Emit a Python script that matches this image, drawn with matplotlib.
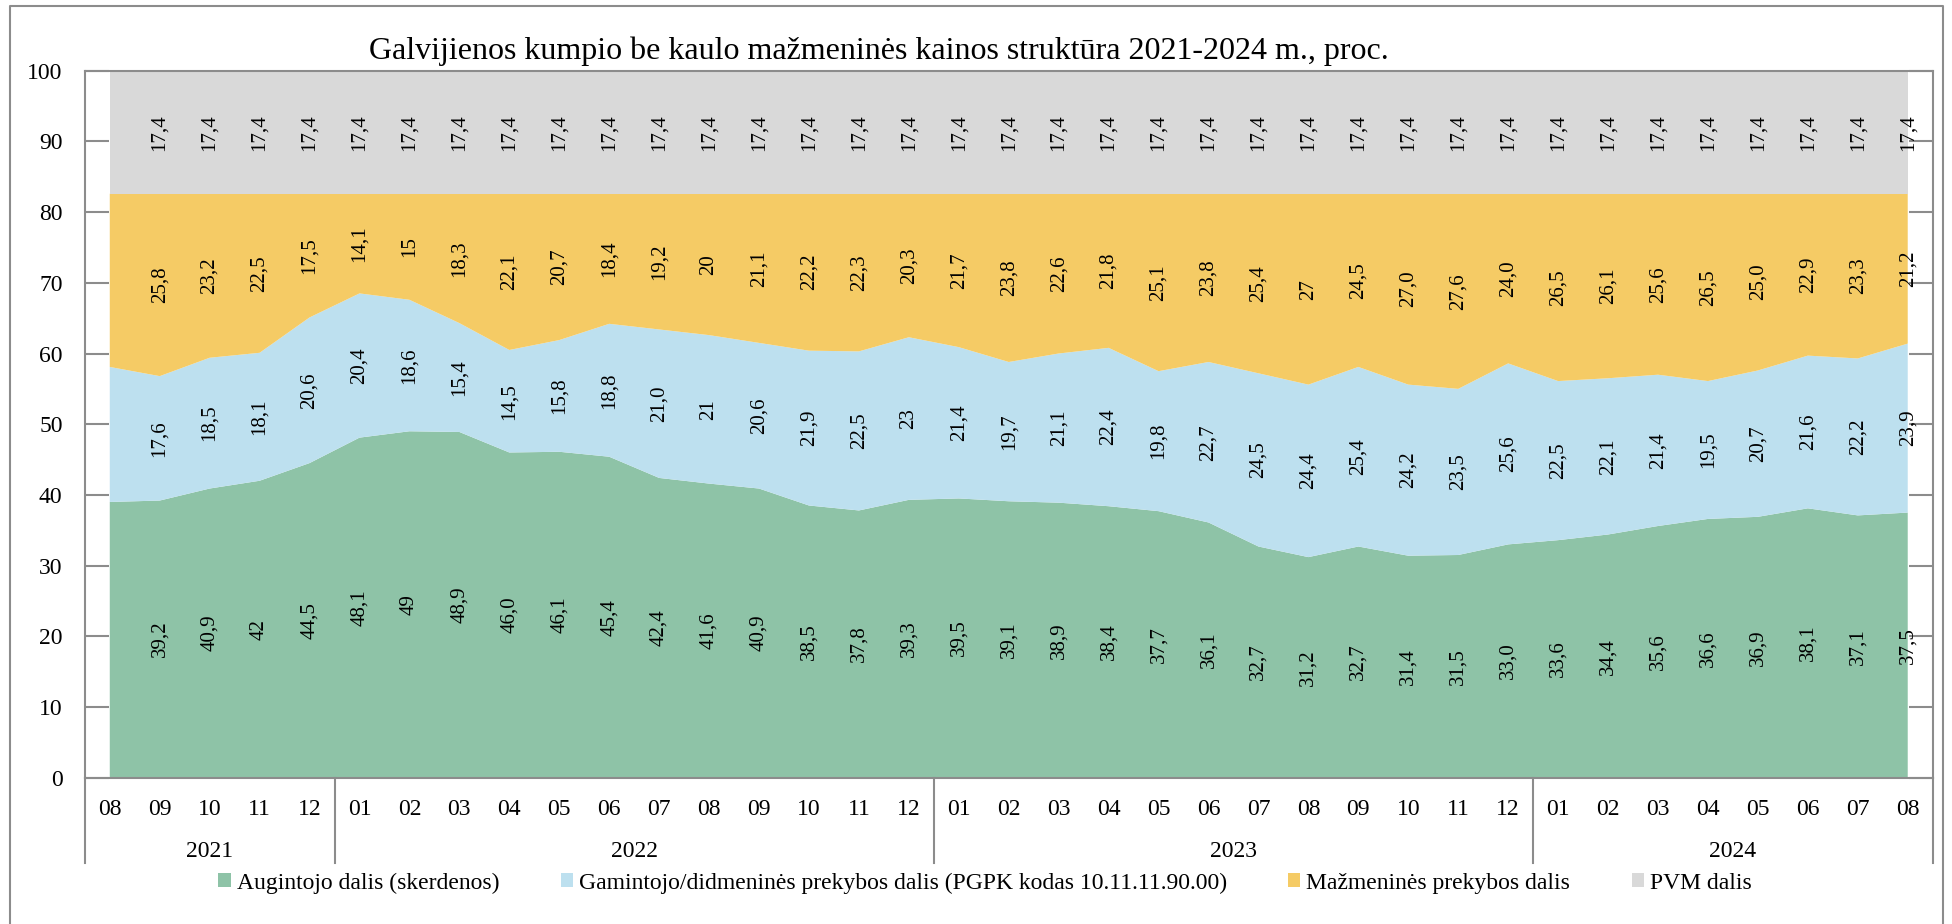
import matplotlib
matplotlib.use("Agg")
import matplotlib.pyplot as plt
from matplotlib.patches import Patch
from matplotlib.lines import Line2D
import matplotlib.transforms as mtransforms
import numpy as np

plt.rcParams['font.family'] = ['Liberation Serif', 'DejaVu Serif']

# ---- data ----
months = ['08', '09', '10', '11', '12',
          '01', '02', '03', '04', '05', '06', '07', '08', '09', '10', '11', '12',
          '01', '02', '03', '04', '05', '06', '07', '08', '09', '10', '11', '12',
          '01', '02', '03', '04', '05', '06', '07', '08']
years = ['2021', '2022', '2023', '2024']
months_per_year = [5, 12, 12, 8]

# ints are labelled without decimals, floats with one decimal (as in the source)
augintojo = [39.0, 39.2, 40.9, 42, 44.5,
             48.1, 49, 48.9, 46.0, 46.1, 45.4, 42.4, 41.6, 40.9, 38.5, 37.8, 39.3,
             39.5, 39.1, 38.9, 38.4, 37.7, 36.1, 32.7, 31.2, 32.7, 31.4, 31.5, 33.0,
             33.6, 34.4, 35.6, 36.6, 36.9, 38.1, 37.1, 37.5]
gamintojo = [19.1, 17.6, 18.5, 18.1, 20.6,
             20.4, 18.6, 15.4, 14.5, 15.8, 18.8, 21.0, 21, 20.6, 21.9, 22.5, 23,
             21.4, 19.7, 21.1, 22.4, 19.8, 22.7, 24.5, 24.4, 25.4, 24.2, 23.5, 25.6,
             22.5, 22.1, 21.4, 19.5, 20.7, 21.6, 22.2, 23.9]
mazmenines = [24.5, 25.8, 23.2, 22.5, 17.5,
              14.1, 15, 18.3, 22.1, 20.7, 18.4, 19.2, 20, 21.1, 22.2, 22.3, 20.3,
              21.7, 23.8, 22.6, 21.8, 25.1, 23.8, 25.4, 27, 24.5, 27.0, 27.6, 24.0,
              26.5, 26.1, 25.6, 26.5, 25.0, 22.9, 23.3, 21.2]
pvm = [17.4, 17.4, 17.4, 17.4, 17.4,
       17.4, 17.4, 17.4, 17.4, 17.4, 17.4, 17.4, 17.4, 17.4, 17.4, 17.4, 17.4,
       17.4, 17.4, 17.4, 17.4, 17.4, 17.4, 17.4, 17.4, 17.4, 17.4, 17.4, 17.4,
       17.4, 17.4, 17.4, 17.4, 17.4, 17.4, 17.4, 17.4]

series_names = ['Augintojo dalis (skerdenos)',
                'Gamintojo/didmeninės prekybos dalis (PGPK kodas 10.11.11.90.00)',
                'Mažmeninės prekybos dalis',
                'PVM dalis']
colors = ['#8ec3a7', '#bde0ef', '#f5cb65', '#d9d9d9']
first_labelled = 1  # the first month carries no data labels

title = 'Galvijienos kumpio be kaulo mažmeninės kainos struktūra 2021-2024 m., proc.'

# ---- figure ----
W, H = 1952, 924
fig = plt.figure(figsize=(W / 100, H / 100), dpi=100)
ax = fig.add_axes([84.8 / W, 1 - 777.7 / H, (1932.7 - 84.8) / W, (777.7 - 70.7) / H])

x = np.arange(len(months))
series = [augintojo, gamintojo, mazmenines, pvm]
ax.stackplot(x, series, colors=colors, linewidth=0)

bottom = np.zeros(len(months))
for s in series:
    for i in range(first_labelled, len(months)):
        ax.text(x[i], bottom[i] + s[i] / 2, str(s[i]).replace('.', ','),
                rotation=90, ha='center', va='center', fontsize=15, color='black')
    bottom = bottom + np.array(s, dtype=float)

ax.set_xlim(-0.5, len(months) - 0.5)
ax.set_ylim(0, 100)
ax.set_yticks(range(0, 101, 10))
ax.set_xticks(x)
ax.set_xticklabels(months)

grey = '#8c8c8c'
for sp in ax.spines.values():
    sp.set_color(grey)
    sp.set_linewidth(1.5)
ax.tick_params(axis='y', direction='in', length=17.5, width=1.5, color=grey,
               left=True, right=True, labelright=False, labelsize=17, pad=16)
ax.tick_params(axis='x', length=0, pad=15, labelsize=17)

# year row of the category axis
trans = mtransforms.blended_transform_factory(ax.transData, ax.transAxes)
edges = np.concatenate([[0], np.cumsum(months_per_year)]) - 0.5
for e in edges:
    ax.plot([e, e], [0, -0.1207], color=grey, lw=1.5, transform=trans, clip_on=False)
for yr, a, b in zip(years, edges[:-1], edges[1:]):
    ax.text((a + b) / 2, -0.1047, yr, transform=trans, ha='center', va='center', fontsize=17)

# legend
handles = [Patch(facecolor=c, edgecolor='none') for c in colors]
fig.legend(handles, series_names, loc='center', bbox_to_anchor=(985 / W, 1 - 883 / H),
           ncol=4, frameon=False, fontsize=17, handlelength=0.52, handleheight=0.52,
           handletextpad=0.25, columnspacing=2.6)

fig.text(879 / W, 1 - 51 / H, title, ha='center', va='center', fontsize=23)

# outer chart border
fig.add_artist(Line2D([10 / W, 10 / W, 1943 / W, 1943 / W], [0, 1 - 6 / H, 1 - 6 / H, 0],
                      color=grey, lw=1.5, transform=fig.transFigure))

fig.savefig('out.png', dpi=100)
